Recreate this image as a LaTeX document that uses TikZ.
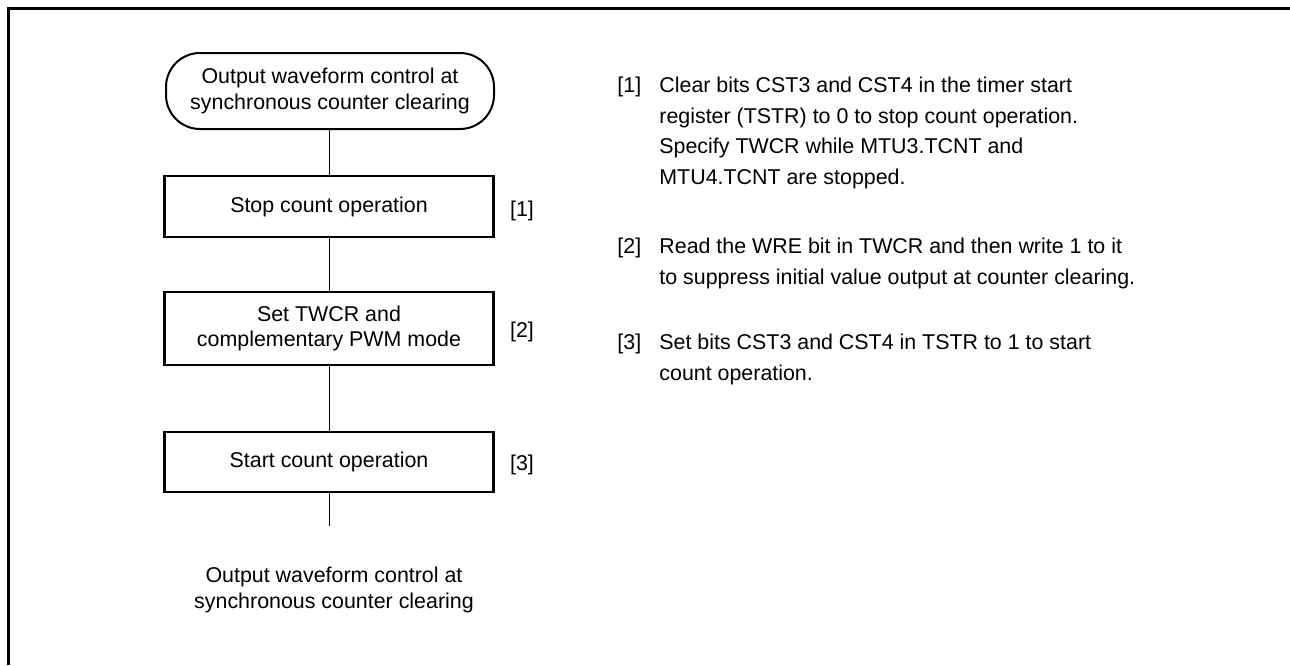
\documentclass[tikz,border=0pt]{standalone}
\usepackage{fontspec}
\setmainfont{Liberation Sans}
\usetikzlibrary{positioning}
\newcommand{\flowfont}{\fontsize{10.7}{12.9}\selectfont}
\newcommand{\notefont}{\fontsize{10.7}{15.25}\selectfont}
\tikzset{term/.style={draw,line width=1pt,rounded corners=17pt,minimum width=164pt,minimum height=38pt,align=center,inner sep=0pt,font=\flowfont},stepbox/.style={draw,line width=1.15pt,minimum width=164.5pt,align=center,inner sep=0pt,font=\flowfont},link/.style={line width=0.5pt},tag/.style={inner sep=0pt,font=\flowfont},note/.style={inner sep=0pt,anchor=north west,align=left,font=\notefont}}

\begin{document}
\begin{tikzpicture}[x=0.5pt,y=-0.5pt]
\useasboundingbox (0,0) rectangle (1290,665);
\draw[line width=1.5pt] (8.5,665)--(8.5,8.5)--(1290,8.5);
% flow
\node[term] (start) at (330,91) {Output waveform control at\\synchronous counter clearing};
\node[stepbox,minimum height=30.5pt] (stop) at (329,206.5) {Stop count operation};
\node[stepbox,minimum height=36.5pt] (set) at (329,328.5) {Set TWCR and\\complementary PWM mode};
\node[stepbox,minimum height=30pt] (go) at (329,462) {Start count operation};
\coordinate (tail) at (329,526);
\node[tag,align=center] (finish) at (334,590) {Output waveform control at\\synchronous counter clearing};
\draw[link] (stop.north)--(stop.north |- start.south);
\draw[link] (stop)--(set);
\draw[link] (set)--(go);
\draw[link] (go)--(tail);
\node[tag] (l1) at (522,211) {[1]};
\node[tag] (l2) at (522,332) {[2]};
\node[tag] (l3) at (522,465) {[3]};
% notes
\node[note] (n1) at (617,77) {[1]};
\node[note] (d1) at (659,77) {Clear bits CST3 and CST4 in the timer start\\register (TSTR) to 0 to stop count operation.\\Specify TWCR while MTU3.TCNT and\\MTU4.TCNT are stopped.};
\node[note] (n2) at (617,238) {[2]};
\node[note] (d2) at (659,238) {Read the WRE bit in TWCR and then write 1 to it\\to suppress initial value output at counter clearing.};
\node[note] (n3) at (617,334) {[3]};
\node[note] (d3) at (659,334) {Set bits CST3 and CST4 in TSTR to 1 to start\\count operation.};
\end{tikzpicture}
\end{document}
